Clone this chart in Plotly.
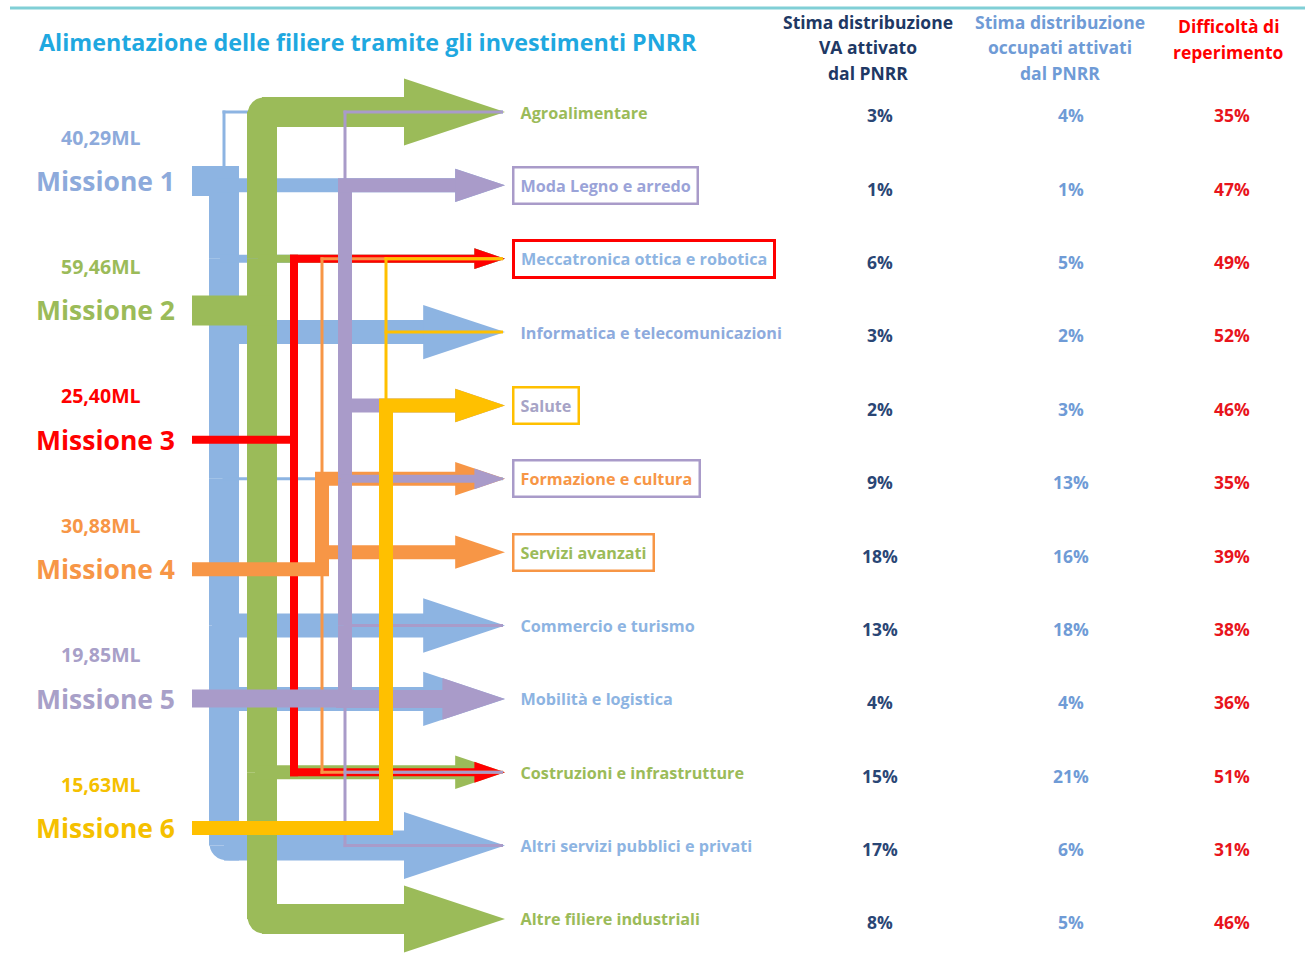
import plotly.graph_objects as go

# ---------------- data ----------------
title_text = "Alimentazione delle filiere tramite gli investimenti PNRR"

missions = ["Missione 1", "Missione 2", "Missione 3", "Missione 4", "Missione 5", "Missione 6"]
mission_amounts = ["40,29ML", "59,46ML", "25,40ML", "30,88ML", "19,85ML", "15,63ML"]

sectors = [
    "Agroalimentare",
    "Moda Legno e arredo",
    "Meccatronica ottica e robotica",
    "Informatica e telecomunicazioni",
    "Salute",
    "Formazione e cultura",
    "Servizi avanzati",
    "Commercio e turismo",
    "Mobilità e logistica",
    "Costruzioni e infrastrutture",
    "Altri servizi pubblici e privati",
    "Altre filiere industriali",
]
va_share = [3, 1, 6, 3, 2, 9, 18, 13, 4, 15, 17, 8]
occ_share = [4, 1, 5, 2, 3, 13, 16, 18, 4, 21, 6, 5]
difficulty = [35, 47, 49, 52, 46, 35, 39, 38, 36, 51, 31, 46]

header_va = ["Stima distribuzione", "VA attivato", "dal PNRR"]
header_occ = ["Stima distribuzione", "occupati attivati", "dal PNRR"]
header_diff = ["Difficoltà di", "reperimento"]

# flow intensity from each mission to each sector (0 = none ... 6 = major)
flow_m1 = [1, 3, 2, 5, 0, 1, 0, 5, 5, 0, 6, 0]
flow_m2 = [6, 0, 2, 0, 0, 0, 0, 0, 0, 3, 0, 6]
flow_m3 = [0, 0, 2, 0, 0, 0, 0, 0, 0, 2, 0, 0]
flow_m4 = [0, 0, 1, 0, 0, 3, 3, 0, 0, 1, 0, 0]
flow_m5 = [1, 3, 0, 0, 3, 2, 0, 1, 4, 1, 1, 0]
flow_m6 = [0, 0, 1, 1, 3, 0, 0, 0, 0, 0, 0, 0]
flows = [flow_m1, flow_m2, flow_m3, flow_m4, flow_m5, flow_m6]

# ---------------- style / layout ----------------
FONT = "Open Sans"
W, H = 1311, 955
mission_colors = ["#8DB4E2", "#9BBB59", "#FF0000", "#F79646", "#A99BC9", "#FFC000"]
mission_text_colors = ["#8DAADB", "#9BBB59", "#FF0000", "#F79646", "#A8A0C8", "#F5C000"]
sector_text_colors = ["#9BBB59", "#9AA3D8", "#8DB4E2", "#8EABDD", "#A6A3C6", "#F79646",
                      "#9BBB59", "#8DB4E2", "#8DB4E2", "#9BBB59", "#8DB4E2", "#9BBB59"]
sector_box_colors = [None, "#A99BC9", "#FF0000", None, "#FFC000", "#A99BC9",
                     "#F79646", None, None, None, None, None]
level_width = [0, 3, 8, 14, 18, 24, 30]
lane_x = [224, 262, 294, 322, 345, 386]
TIP_X = 505
STUB_X0 = 192
col_x = [880, 1071, 1232]
head_x = [868, 1060, 1228]
col_colors = ["#2A4675", "#6F9BD6", "#E8141C"]
head_colors = ["#203864", "#6F9BD6", "#FF0000"]


def sector_y(i):
    return 112 + 73.36 * i


def mission_y(j):
    return 181 + 129.4 * j


shapes = []


def rect(x0, x1, y0, y1, color):
    shapes.append(dict(type="rect", xref="x", yref="y", x0=x0, x1=x1, y0=y0, y1=y1,
                       fillcolor=color, line=dict(width=0), layer="above"))


def path(d, color):
    shapes.append(dict(type="path", xref="x", yref="y", path=d,
                       fillcolor=color, line=dict(width=0), layer="above"))


# top decorative rule
shapes.append(dict(type="line", xref="x", yref="y", x0=10, x1=1305, y0=8, y1=8,
                   line=dict(color="#80CFD6", width=3), layer="above"))

for m in range(len(missions)):
    col = mission_colors[m]
    lx = lane_x[m]
    my = mission_y(m)
    links = [(sector_y(s), level_width[lv]) for s, lv in enumerate(flows[m]) if lv > 0]
    stub_w = max(w for _, w in links)
    events = sorted(set([my] + [y for y, _ in links]))
    # trunk segments
    for a, b in zip(events[:-1], events[1:]):
        if b <= my:
            w = max(wl for yl, wl in links if yl <= a)
        else:
            w = max(wl for yl, wl in links if yl >= b)
        rect(lx - w / 2, lx + w / 2, a, b, col)
    # elbows at extremes
    top_y, top_w = min(links)
    bot_y, bot_w = max(links)
    elbow_links = set()
    if top_y < my:
        xl, xr, yt = lx - top_w / 2, lx + top_w / 2, top_y - top_w / 2
        if top_w >= 14:
            r = 0.7 * top_w
            path(f"M {xl},{top_y} L {xl},{yt + r} Q {xl},{yt} {xl + r},{yt} L {xr},{yt} L {xr},{top_y} Z", col)
            elbow_links.add(top_y)
        else:
            rect(xl, xr, yt, top_y, col)
    if bot_y > my:
        xl, xr, yb = lx - bot_w / 2, lx + bot_w / 2, bot_y + bot_w / 2
        if bot_w >= 14:
            r = 0.7 * bot_w
            path(f"M {xl},{bot_y} L {xl},{yb - r} Q {xl},{yb} {xl + r},{yb} L {xr},{yb} L {xr},{bot_y} Z", col)
            elbow_links.add(bot_y)
        else:
            rect(xl, xr, bot_y, yb, col)
    # stub from the mission label
    rect(STUB_X0, lx + stub_w / 2, my - stub_w / 2, my + stub_w / 2, col)
    # branches to the sectors
    for y, w in links:
        x_start = lx if y in elbow_links else lx - w / 2
        if w >= 8:
            hh = w * 1.05 + 2
            hl = w * 3.2 + 5
            base = TIP_X - hl
            rect(x_start, base + 1, y - w / 2, y + w / 2, col)
            path(f"M {base},{y - hh} L {TIP_X},{y} L {base},{y + hh} Z", col)
        else:
            rect(x_start, TIP_X - 2, y - w / 2, y + w / 2, col)

annotations = []
# title
annotations.append(dict(x=37, y=42, xref="x", yref="y", text=title_text, showarrow=False,
                        xanchor="left", yanchor="middle",
                        font=dict(family=FONT, size=23.3, color="#1FA8E0", weight="bold")))
# column headers
for hdr, hx, hc, ys in [(header_va, head_x[0], head_colors[0], [22, 47, 73]),
                        (header_occ, head_x[1], head_colors[1], [22, 47, 73]),
                        (header_diff, head_x[2], head_colors[2], [26, 52])]:
    for line, yy in zip(hdr, ys):
        annotations.append(dict(x=hx, y=yy, xref="x", yref="y", text=line, showarrow=False,
                                xanchor="center", yanchor="middle",
                                font=dict(family=FONT, size=17.5, color=hc, weight="bold")))
# mission labels
for j, (name, amt) in enumerate(zip(missions, mission_amounts)):
    annotations.append(dict(x=105, y=mission_y(j), xref="x", yref="y", text=name, showarrow=False,
                            xanchor="center", yanchor="middle",
                            font=dict(family=FONT, size=26.5, color=mission_text_colors[j], weight="bold")))
    annotations.append(dict(x=101, y=mission_y(j) - 44, xref="x", yref="y", text=amt, showarrow=False,
                            xanchor="center", yanchor="middle",
                            font=dict(family=FONT, size=19.5, color=mission_text_colors[j], weight="bold")))
# sector labels
for i, s in enumerate(sectors):
    bc = sector_box_colors[i]
    annotations.append(dict(x=512, y=sector_y(i), xref="x", yref="y", text=s, showarrow=False,
                            xanchor="left", yanchor="middle",
                            bordercolor=bc if bc else "rgba(0,0,0,0)",
                            borderwidth=3 if bc == "#FF0000" else 2.5, borderpad=6,
                            font=dict(family=FONT, size=16.2, color=sector_text_colors[i], weight="bold")))

fig = go.Figure()
row_y = [sector_y(i) + 6 for i in range(len(sectors))]
for values, cx, cc in [(va_share, col_x[0], col_colors[0]),
                       (occ_share, col_x[1], col_colors[1]),
                       (difficulty, col_x[2], col_colors[2])]:
    fig.add_trace(go.Scatter(x=[cx] * len(values), y=row_y, mode="text",
                             text=[f"{v}%" for v in values], textposition="middle center",
                             textfont=dict(family=FONT, size=17.5, color=cc, weight="bold"),
                             hoverinfo="skip", showlegend=False))

fig.update_layout(
    width=W, height=H,
    margin=dict(l=0, r=0, t=0, b=0),
    paper_bgcolor="white", plot_bgcolor="white",
    xaxis=dict(range=[0, W], visible=False, fixedrange=True),
    yaxis=dict(range=[H, 0], visible=False, fixedrange=True),
    shapes=shapes, annotations=annotations, showlegend=False,
)

fig.write_html("out.html", config={"displayModeBar": False},
               post_script="document.body.style.margin='0px';document.body.style.overflow='hidden';")
